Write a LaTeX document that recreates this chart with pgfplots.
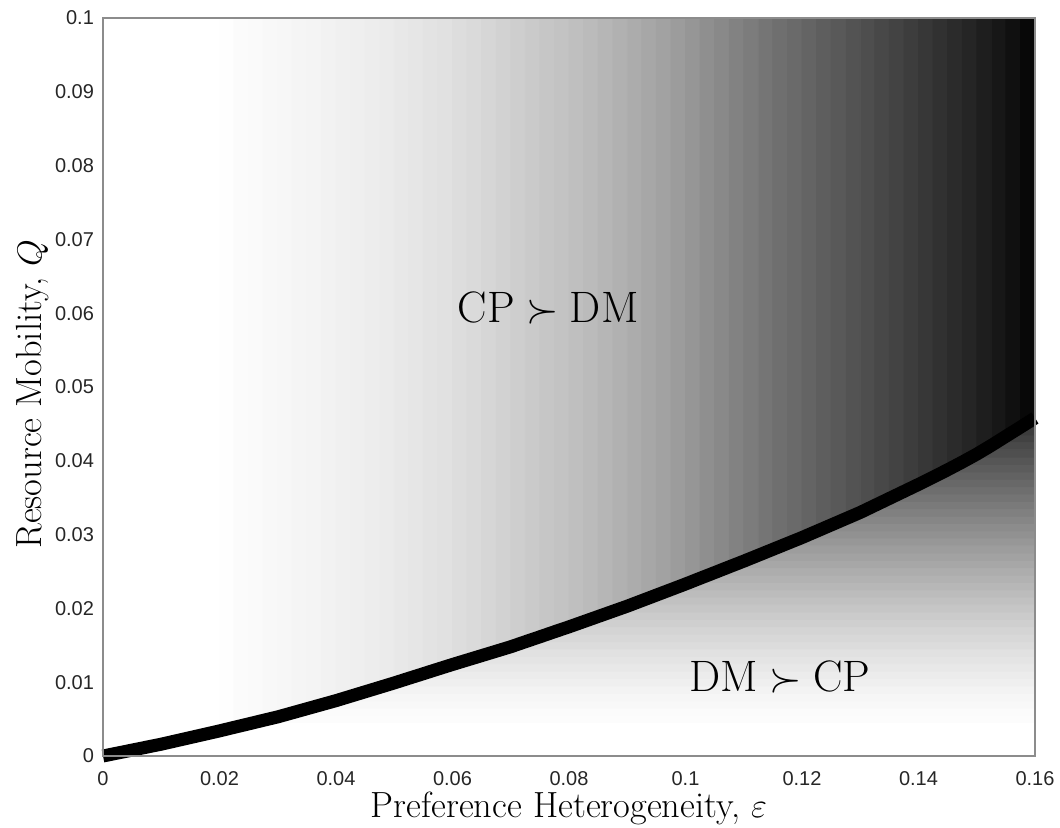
\documentclass[border=0pt]{standalone}
\usepackage{fontspec}
\usepackage{pgfplots}
\pgfplotsset{compat=1.18}
\usepackage{pgfplotstable}
\newfontfamily\tickfont{Liberation Sans}
\definecolor{axisgray}{RGB}{140,140,140}
\definecolor{ticktext}{RGB}{38,38,38}

% region above the boundary: bottom scanline on the curve, top scanline at Q=0.1
\pgfplotstableread{
x y b
0 0 1
0.0025 0.0004 1
0.005 0.0008 1
0.0075 0.0012 1
0.01 0.0016 1
0.0125 0.00205 1
0.015 0.0025 1
0.0175 0.00295 1
0.02 0.0034 1
0.0225 0.00388 0.980
0.025 0.00435 0.975
0.0275 0.00483 0.970
0.03 0.0053 0.965
0.0325 0.00585 0.959
0.035 0.0064 0.952
0.0375 0.00695 0.946
0.04 0.0075 0.940
0.0425 0.0081 0.933
0.045 0.0087 0.925
0.0475 0.0093 0.918
0.05 0.0099 0.910
0.0525 0.01053 0.900
0.055 0.01115 0.890
0.0575 0.01178 0.880
0.06 0.0124 0.870
0.0625 0.0130 0.855
0.065 0.0136 0.840
0.0675 0.0142 0.825
0.07 0.0148 0.810
0.0725 0.01548 0.795
0.075 0.01615 0.780
0.0775 0.01683 0.765
0.08 0.0175 0.750
0.0825 0.0182 0.735
0.085 0.0189 0.720
0.0875 0.0196 0.700
0.09 0.0203 0.680
0.0925 0.02105 0.660
0.095 0.0218 0.640
0.0975 0.02255 0.618
0.1 0.0233 0.595
0.1025 0.02408 0.570
0.105 0.02485 0.545
0.1075 0.02563 0.520
0.11 0.0264 0.495
0.1125 0.0272 0.470
0.115 0.0280 0.445
0.1175 0.0288 0.422
0.12 0.0296 0.400
0.1225 0.03045 0.378
0.125 0.0313 0.355
0.1275 0.03215 0.335
0.13 0.0330 0.315
0.1325 0.03395 0.292
0.135 0.0349 0.270
0.1375 0.03585 0.248
0.14 0.0368 0.225
0.1425 0.03778 0.202
0.145 0.03878 0.180
0.1475 0.03982 0.155
0.15 0.0409 0.130
0.1525 0.04208 0.103
0.155 0.04332 0.075
0.1575 0.04455 0.048
0.16 0.0458 0.015
0 0.1 1
0.0025 0.1 1
0.005 0.1 1
0.0075 0.1 1
0.01 0.1 1
0.0125 0.1 1
0.015 0.1 1
0.0175 0.1 1
0.02 0.1 1
0.0225 0.1 0.980
0.025 0.1 0.975
0.0275 0.1 0.970
0.03 0.1 0.965
0.0325 0.1 0.959
0.035 0.1 0.952
0.0375 0.1 0.946
0.04 0.1 0.940
0.0425 0.1 0.933
0.045 0.1 0.925
0.0475 0.1 0.918
0.05 0.1 0.910
0.0525 0.1 0.900
0.055 0.1 0.890
0.0575 0.1 0.880
0.06 0.1 0.870
0.0625 0.1 0.855
0.065 0.1 0.840
0.0675 0.1 0.825
0.07 0.1 0.810
0.0725 0.1 0.795
0.075 0.1 0.780
0.0775 0.1 0.765
0.08 0.1 0.750
0.0825 0.1 0.735
0.085 0.1 0.720
0.0875 0.1 0.700
0.09 0.1 0.680
0.0925 0.1 0.660
0.095 0.1 0.640
0.0975 0.1 0.618
0.1 0.1 0.595
0.1025 0.1 0.570
0.105 0.1 0.545
0.1075 0.1 0.520
0.11 0.1 0.495
0.1125 0.1 0.470
0.115 0.1 0.445
0.1175 0.1 0.422
0.12 0.1 0.400
0.1225 0.1 0.378
0.125 0.1 0.355
0.1275 0.1 0.335
0.13 0.1 0.315
0.1325 0.1 0.292
0.135 0.1 0.270
0.1375 0.1 0.248
0.14 0.1 0.225
0.1425 0.1 0.202
0.145 0.1 0.180
0.1475 0.1 0.155
0.15 0.1 0.130
0.1525 0.1 0.103
0.155 0.1 0.075
0.1575 0.1 0.048
0.16 0.1 0.015
}\upperregion

% region below the boundary: horizontal bands from the curve to the right edge
\pgfplotstableread{
x y b
0.02578 0.0045 0.985
0.16 0.0045 0.985
0.03091 0.0055 0.980
0.16 0.0055 0.980
0.03545 0.0065 0.972
0.16 0.0065 0.972
0.04 0.0075 0.962
0.16 0.0075 0.962
0.04417 0.0085 0.951
0.16 0.0085 0.951
0.04833 0.0095 0.939
0.16 0.0095 0.939
0.05238 0.0105 0.926
0.16 0.0105 0.926
0.05639 0.0115 0.912
0.16 0.0115 0.912
0.06042 0.0125 0.897
0.16 0.0125 0.897
0.06458 0.0135 0.882
0.16 0.0135 0.882
0.06875 0.0145 0.867
0.16 0.0145 0.867
0.07257 0.0155 0.850
0.16 0.0155 0.850
0.07629 0.0165 0.833
0.16 0.0165 0.833
0.08 0.0175 0.816
0.16 0.0175 0.816
0.08357 0.0185 0.798
0.16 0.0185 0.798
0.08714 0.0195 0.780
0.16 0.0195 0.780
0.09067 0.0205 0.761
0.16 0.0205 0.761
0.0940 0.0215 0.742
0.16 0.0215 0.742
0.09733 0.0225 0.723
0.16 0.0225 0.723
0.10064 0.0235 0.703
0.16 0.0235 0.703
0.10386 0.0245 0.683
0.16 0.0245 0.683
0.10708 0.0255 0.662
0.16 0.0255 0.662
0.11031 0.0265 0.641
0.16 0.0265 0.641
0.11344 0.0275 0.620
0.16 0.0275 0.620
0.11656 0.0285 0.599
0.16 0.0285 0.599
0.11969 0.0295 0.577
0.16 0.0295 0.577
0.12265 0.0305 0.555
0.16 0.0305 0.555
0.12559 0.0315 0.533
0.16 0.0315 0.533
0.12853 0.0325 0.510
0.16 0.0325 0.510
0.13132 0.0335 0.487
0.16 0.0335 0.487
0.13395 0.0345 0.464
0.16 0.0345 0.464
0.13658 0.0355 0.441
0.16 0.0355 0.441
0.13921 0.0365 0.418
0.16 0.0365 0.418
0.14179 0.0375 0.394
0.16 0.0375 0.394
0.1443 0.0385 0.370
0.16 0.0385 0.370
0.14673 0.0395 0.345
0.16 0.0395 0.345
0.14907 0.0405 0.321
0.16 0.0405 0.321
0.15127 0.0415 0.296
0.16 0.0415 0.296
0.15335 0.0425 0.271
0.16 0.0425 0.271
0.15537 0.0435 0.246
0.16 0.0435 0.246
0.1574 0.0445 0.221
0.16 0.0445 0.221
0.1594 0.0455 0.195
0.16 0.0455 0.195
0.16 0.0458 0.185
0.16 0.0458 0.185
}\lowerregion

\begin{document}
\begin{tikzpicture}
\begin{axis}[
  name=ax,
  scale only axis,
  width=466pt, height=369pt,
  xmin=0, xmax=0.16, ymin=0, ymax=0.1,
  axis on top,
  clip=false,
  axis line style={draw=axisgray, line width=0.75pt},
  major tick length=0pt,
  xtick={0,0.02,0.04,0.06,0.08,0.1,0.12,0.14,0.16},
  xticklabels={0,0.02,0.04,0.06,0.08,0.1,0.12,0.14,0.16},
  ytick={0,0.01,0.02,0.03,0.04,0.05,0.06,0.07,0.08,0.09,0.1},
  yticklabels={0,0.01,0.02,0.03,0.04,0.05,0.06,0.07,0.08,0.09,0.1},
  ticklabel style={font=\tickfont\fontsize{10}{12}\selectfont, text=ticktext},
  xticklabel style={yshift=-4pt},
  yticklabel style={xshift=-1pt},
  colormap={bw}{gray(0cm)=(0); gray(1cm)=(1)},
  point meta min=0, point meta max=1,
  xlabel={Preference Heterogeneity, $\varepsilon$},
  ylabel={Resource Mobility, $Q$},
  label style={font=\fontsize{18.2}{22}\selectfont},
  xlabel style={at={(axis description cs:0.5,-0.084)}, anchor=base},
  ylabel style={at={(axis description cs:-0.066,0.49)}, anchor=base},
]
\addplot[surf, shader=flat mean, mesh/cols=2, point meta=explicit]
  table[x=x, y=y, meta=b] {\lowerregion};
\addplot[surf, shader=flat mean, mesh/cols=65, point meta=explicit]
  table[x=x, y=y, meta=b] {\upperregion};
\addplot[black, line width=6.5pt, line join=round]
  table[x=x, y=y, skip coords between index={65}{130}] {\upperregion};
\node[anchor=base, font=\fontsize{22}{26}\selectfont] at (axis cs:0.0764,0.0587) {$\mathrm{CP} \succ \mathrm{DM}$};
\node[anchor=base, font=\fontsize{22}{26}\selectfont] at (axis cs:0.1162,0.0087) {$\mathrm{DM} \succ \mathrm{CP}$};
\end{axis}
\pgfresetboundingbox
\path[use as bounding box] ([shift={(-51.5pt,-36pt)}]ax.south west) rectangle ([shift={(12.5pt,9pt)}]ax.north east);
\end{tikzpicture}
\end{document}
